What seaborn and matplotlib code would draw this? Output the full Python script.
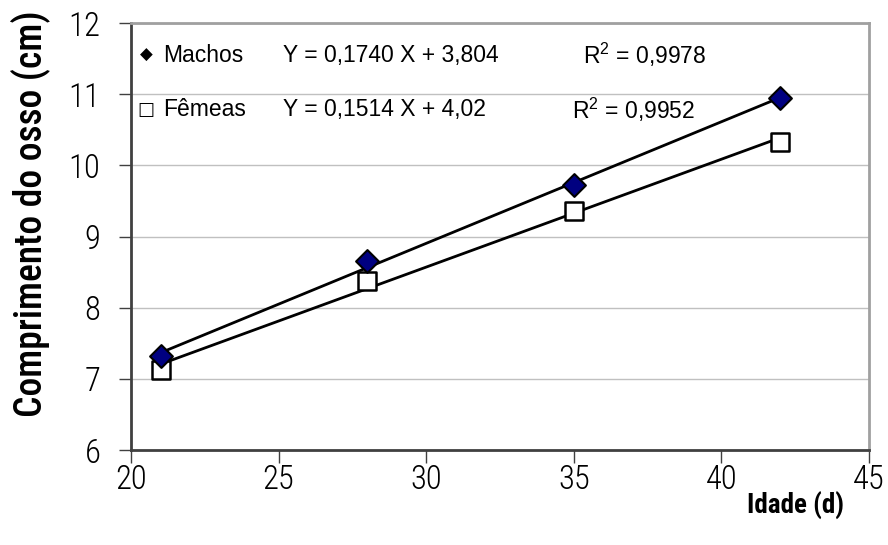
import matplotlib
matplotlib.use("Agg")
import matplotlib.pyplot as plt
import seaborn as sns
import pandas as pd

# Bone length (cm) by age (days), males and females
idade = [21, 28, 35, 42]
machos = [7.32, 8.65, 9.72, 10.95]
femeas = [7.12, 8.38, 9.36, 10.33]

eq_machos = "Y = 0,1740 X + 3,804"
eq_femeas = "Y = 0,1514 X + 4,02"
r2_machos = "0,9978"
r2_femeas = "0,9952"

x_ticks = [20, 25, 30, 35, 40, 45]
y_ticks = [6, 7, 8, 9, 10, 11, 12]

sns.set_theme(style="white")
plt.rcParams["font.family"] = ["Liberation Sans", "DejaVu Sans"]
plt.rcParams["text.color"] = "black"
plt.rcParams["axes.labelcolor"] = "black"
plt.rcParams["xtick.color"] = "black"
plt.rcParams["ytick.color"] = "black"
plt.rcParams["mathtext.fontset"] = "custom"
plt.rcParams["mathtext.rm"] = "Liberation Sans"
plt.rcParams["mathtext.it"] = "Liberation Sans"

narrow = ["Roboto Condensed", "Liberation Sans", "DejaVu Sans"]

df_m = pd.DataFrame({"idade": idade, "comp": machos})
df_f = pd.DataFrame({"idade": idade, "comp": femeas})

fig = plt.figure(figsize=(8.88, 5.45), dpi=100)
ax = fig.add_axes([131 / 888, 95 / 545, 738 / 888, 427 / 545])

# trend lines
sns.regplot(data=df_m, x="idade", y="comp", ax=ax, scatter=False, ci=None,
            line_kws=dict(color="black", lw=2.0, zorder=3))
sns.regplot(data=df_f, x="idade", y="comp", ax=ax, scatter=False, ci=None,
            line_kws=dict(color="black", lw=2.0, zorder=3))

# points
sns.scatterplot(data=df_f, x="idade", y="comp", ax=ax, marker="s", s=165,
                color="white", edgecolor="black", linewidth=1.8, zorder=4)
sns.scatterplot(data=df_m, x="idade", y="comp", ax=ax, marker="D", s=135,
                color="#000080", edgecolor="black", linewidth=1.5, zorder=5)

ax.set_xlim(20, 45)
ax.set_ylim(6, 12)
ax.set_xticks(x_ticks)
ax.set_yticks(y_ticks)
ax.set_xticklabels([str(v) for v in x_ticks], fontfamily=narrow, fontsize=23.5,
                   fontweight="light")
ax.set_yticklabels([str(v) for v in y_ticks], fontfamily=narrow, fontsize=23.5,
                   fontweight="light")

ax.grid(axis="y", color="#c0c0c0", lw=1.0)
ax.set_axisbelow(True)

for side in ["left", "bottom"]:
    ax.spines[side].set_color("#404040")
    ax.spines[side].set_linewidth(2.0)
for side in ["top", "right"]:
    ax.spines[side].set_color("#a0a0a0")
    ax.spines[side].set_linewidth(2.0)

ax.tick_params(axis="both", direction="out", length=9, width=1.0,
               color="#404040", left=True, bottom=True)
ax.tick_params(axis="y", pad=13)
ax.tick_params(axis="x", pad=1)

ax.set_xlabel("Idade (d)", fontfamily=narrow, fontsize=19.5, fontweight="bold",
              ha="center", va="center")
ax.xaxis.set_label_coords(0.9, -0.13)
ax.set_ylabel("Comprimento do osso (cm)", fontfamily=narrow, fontsize=27,
              fontweight="medium", va="center")
ax.yaxis.set_label_coords(-0.137, 0.553)

# legend and regression equations
fs = 16.5
ax.text(0.012, 0.925, "\u25C6", transform=ax.transAxes, fontsize=12,
        fontfamily="DejaVu Sans", va="center", color="black")
ax.text(0.043, 0.925, "Machos", transform=ax.transAxes, fontsize=fs, va="center")
ax.text(0.206, 0.925, eq_machos, transform=ax.transAxes, fontsize=fs, va="center")
ax.text(0.613, 0.925, r"$\mathregular{R^2}$ = " + r2_machos,
        transform=ax.transAxes, fontsize=fs, va="center")

ax.text(0.008, 0.797, "\u25A1", transform=ax.transAxes, fontsize=13,
        fontfamily="DejaVu Sans", va="center", color="black")
ax.text(0.043, 0.797, "F\u00eameas", transform=ax.transAxes, fontsize=fs, va="center")
ax.text(0.206, 0.797, eq_femeas, transform=ax.transAxes, fontsize=fs, va="center")
ax.text(0.598, 0.797, r"$\mathregular{R^2}$ = " + r2_femeas,
        transform=ax.transAxes, fontsize=fs, va="center")

fig.savefig("out.png", dpi=100)
